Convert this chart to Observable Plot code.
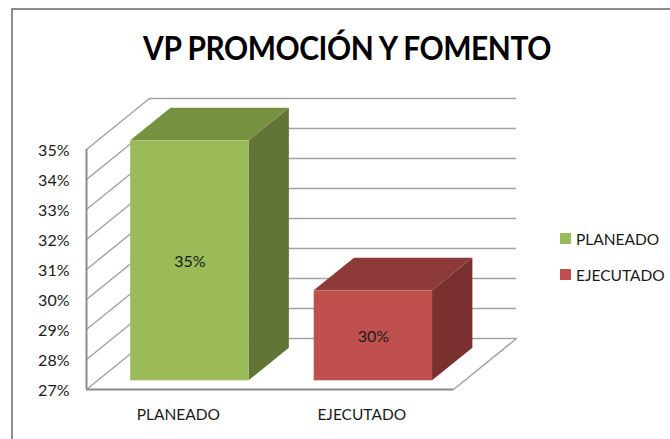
<!DOCTYPE html>
<html>
<head>
<meta charset="utf-8">
<script src="https://cdn.jsdelivr.net/npm/d3@7"></script>
<script src="https://cdn.jsdelivr.net/npm/@observablehq/plot@0.6"></script>
<style>
html,body{margin:0;padding:0;background:#fff;overflow:hidden}
#page{position:relative;width:670px;height:439px;font-family:Lato,sans-serif;color:#1a1a1a}
#frame{position:absolute;left:11px;top:8px;width:670px;height:440px;border-left:2px solid #8c8c8c;border-top:2px solid #8c8c8c}
#title{position:absolute;left:0;top:29px;width:694px;text-align:center;font-size:32px;font-weight:700;color:#000;letter-spacing:-.5px;white-space:nowrap;line-height:38px;transform:scaleX(.935)}
#chart{position:absolute;left:0;top:0}
.leg{position:absolute;left:576px;font-size:15.5px;line-height:18px;white-space:nowrap}
.sw{position:absolute;left:560px;width:11px;height:11px}
</style>
</head>
<body>
<div id="page">
  <div id="frame"></div>
  <div id="chart"></div>
  <div id="title">VP PROMOCIÓN Y FOMENTO</div>
  <div class="sw" style="top:233px;background:#9BBB59"></div><div class="leg" style="top:230px">PLANEADO</div>
  <div class="sw" style="top:269px;background:#C0504D"></div><div class="leg" style="top:266px">EJECUTADO</div>
</div>
<script>
const categories = ["PLANEADO", "EJECUTADO"];
const values = [35, 30];
const frontColors = ["#9BBB59", "#C0504D"];
const topColors = ["#769140", "#8E3A38"];
const sideColors = ["#637536", "#7A302E"];
const yTicks = [27, 28, 29, 30, 31, 32, 33, 34, 35];

// Oblique projection of the 3D box: one full depth unit shifts right and up.
const yMin = 27, yMax = 35;
const depthX = 63 / 183.5;   // x units per full depth
const depthY = 1.7;          // percent units per full depth
const barWidth = 0.645, barShift = 0.005;
const depthFront = 0.17, depthBack = 0.81;
const X = (c, d) => c + d * depthX;
const Y = (v, d) => v + d * depthY;

const gridColor = "#a3a3a3";
const marks = [];

// back wall gridlines
marks.push(Plot.ruleY(yTicks, {
  x1: 0 + depthX, x2: 2 + depthX, y: d => Y(d, 1), stroke: gridColor, strokeWidth: 1.5
}));
// side wall gridlines
for (const t of yTicks) {
  marks.push(Plot.line([0, 1], {x: d => X(0, d), y: d => Y(t, d), stroke: gridColor, strokeWidth: 1.5}));
}
// floor outline
marks.push(Plot.line([[2, 0], [2, 1]], {x: d => X(d[0], d[1]), y: d => Y(yMin, d[1]), stroke: gridColor, strokeWidth: 1.5}));
// axis lines
marks.push(Plot.ruleX([0], {y1: yMin, y2: yMax, stroke: "#8c8c8c", strokeWidth: 2}));
marks.push(Plot.ruleY([yMin], {x1: 0, x2: 2, stroke: "#8c8c8c", strokeWidth: 2}));

// bars
categories.forEach((cat, i) => {
  const cx = i + 0.5 + barShift;
  const x0 = cx - barWidth / 2, x1 = cx + barWidth / 2, v = values[i];
  const depths = [depthFront, depthBack];
  marks.push(Plot.areaY(depths, {
    x: d => X(x1, d), y1: d => Y(yMin, d), y2: d => Y(v, d), fill: sideColors[i]
  }));
  marks.push(Plot.areaX(depths, {
    y: d => Y(v, d), x1: d => X(x0, d), x2: d => X(x1, d), fill: topColors[i]
  }));
  marks.push(Plot.rect([v], {
    x1: X(x0, depthFront), x2: X(x1, depthFront),
    y1: Y(yMin, depthFront), y2: d => Y(d, depthFront), fill: frontColors[i], inset: 0
  }));
  marks.push(Plot.text([v], {
    x: X(cx, depthFront), y: d => Y((d + yMin) / 2, depthFront),
    text: d => d + "%", fontSize: 16, fill: "#1a1a1a", dy: 1
  }));
});

// axes
marks.push(Plot.axisY({
  ticks: yTicks, tickFormat: d => d + "%", tickSize: 0, tickPadding: 17,
  fontSize: 16, label: null, fill: "#1a1a1a", dy: 1
}));
marks.push(Plot.axisX({
  ticks: [0.5, 1.5], tickFormat: d => categories[d - 0.5], tickSize: 0, tickPadding: 19,
  fontSize: 15.5, label: null, fill: "#1a1a1a"
}));

const plot = Plot.plot({
  width: 670, height: 439,
  marginLeft: 86, marginRight: 217, marginTop: 149, marginBottom: 50,
  style: {background: "transparent", overflow: "visible", fontFamily: "Lato, sans-serif"},
  x: {type: "linear", domain: [0, 2]},
  y: {type: "linear", domain: [yMin, yMax]},
  marks
});
document.getElementById("chart").appendChild(plot);
</script>
</body>
</html>
